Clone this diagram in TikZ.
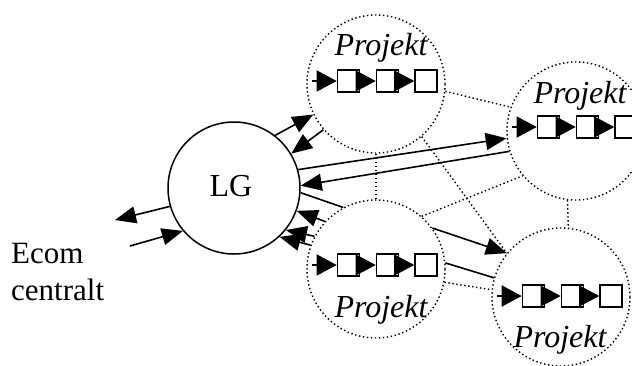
\documentclass[tikz,border=0pt]{standalone}
\usepackage{fontspec}
\setmainfont{Liberation Serif}
\usetikzlibrary{arrows.meta}
\begin{document}
\begin{tikzpicture}[x=1pt,y=-1pt,
  proj/.style={circle,draw,dash pattern=on 1.4pt off 2.6pt,line width=1.4pt,minimum size=138pt,inner sep=0pt},
  lgnode/.style={circle,draw,line width=1.5pt,minimum size=132pt,inner sep=0pt},
  pbox/.style={draw,line width=1.6pt,fill=white,minimum size=22pt,inner sep=0pt},
  link/.style={dash pattern=on 1.4pt off 2.6pt,line width=1.4pt},
  flow/.style={line width=1.6pt,-{Triangle[length=21pt,width=17pt]}},
  plainline/.style={line width=1.6pt},
  chainarrow/.style={line width=1.6pt,-{Triangle[length=20pt,width=21pt]}},
  ptext/.style={font=\fontsize{32}{32}\selectfont\itshape,anchor=base,inner sep=0pt},
]
\useasboundingbox (0,0) rectangle (632,365);

% central node
\node[lgnode] (lg) at (234,188) {};
\node[font=\fontsize{32}{32}\selectfont,anchor=base,inner sep=0pt] (lgt) at (231,196) {LG};

% project circles with chains
\foreach \p/\cx/\cy/\ch in {p1/376/84/81, p2/576/131/127, p3/376/269/265, p4/561/297/296} {
  \node[proj] (\p) at (\cx,\cy) {};
  \node[pbox] (\p-b1) at (\cx-27.5,\ch) {};
  \node[pbox] (\p-b2) at (\cx+11.5,\ch) {};
  \node[pbox] (\p-b3) at (\cx+50,\ch) {};
  \coordinate (\p-in) at (\cx-64,\ch);
  \draw[chainarrow] (\p-in) -- (\p-b1);
  \draw[chainarrow] (\p-b1) -- (\p-b2);
  \draw[chainarrow] (\p-b2) -- (\p-b3);
}

\node[ptext] (p1t) at (381,55) {Projekt};
\node[ptext] (p2t) at (580,103) {Projekt};
\node[ptext] (p3t) at (381,317) {Projekt};
\node[ptext] (p4t) at (560,347) {Projekt};

% dotted links between projects
\draw[link] (p1.-6.6) -- (p2.160);
\draw[link] (p1.270) -- (p3.90);
\draw[link] (p1.-49) -- (p4.141);
\draw[link] (p3.49.6) -- (p2.220.4);
\draw[link] (p2.263) -- (p4.84);
\draw[link] (p3.-11.8) -- (p4.174);

% flows LG <-> projects
\draw[flow] (lg.52.5) -- (p1.206);
\draw[flow] (p1.221) -- (lg.31);
\draw[flow] (lg.16.5) -- (p2.186);
\draw[flow] (p2.197.7) -- (lg.2.5);
\draw[plainline] (lg.-4.3) -- (p3.118);
\draw[flow] (p3.137) -- (lg.-20.6);
\draw[flow] (p3.152) -- (lg.-39.8);
\draw[flow] (p3.160) -- (lg.-47);

% project 3 -> project 4
\draw[flow] (p3.36.9) -- (p4.141.8);
\draw[plainline] (p3.5.8) -- (p4.164);

% Ecom
\coordinate (eout) at (115,220);
\coordinate (ein) at (130,246);
\draw[flow] (lg.196.8) -- (eout);
\draw[flow] (ein) -- (lg.220.8);
\node[font=\fontsize{31}{37}\selectfont,align=left,anchor=base west,inner sep=0pt] (ecom) at (11,300) {Ecom\\centralt};
\end{tikzpicture}
\end{document}
